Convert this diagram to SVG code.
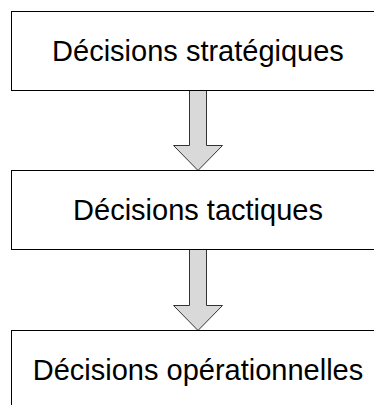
<svg xmlns="http://www.w3.org/2000/svg" width="374" height="405" viewBox="0 0 374 405">
<style>
.box{fill:#fff;stroke:#000;stroke-width:1}
.lbl{font-family:"Liberation Sans",Arial,sans-serif;font-size:29px;fill:#000;text-anchor:middle}
.arr{fill:#d9d9d9;stroke:#333;stroke-width:1}
</style>
<rect width="374" height="405" fill="#fff"/>
<g id="connectors">
<polygon class="arr" points="189.5,90.5 206.5,90.5 206.5,145.5 222.5,145.5 198,170.5 173.5,145.5 189.5,145.5"/>
<polygon class="arr" points="189.5,249.5 206.5,249.5 206.5,305.5 222.5,305.5 198,330.5 173.5,305.5 189.5,305.5"/>
</g>
<g id="n1">
<rect class="box" x="11.5" y="11.5" width="374" height="79"/>
<text class="lbl" x="198" y="61">Décisions stratégiques</text>
</g>
<g id="n2">
<rect class="box" x="11.5" y="170.5" width="374" height="79"/>
<text class="lbl" x="198" y="220">Décisions tactiques</text>
</g>
<g id="n3">
<rect class="box" x="11.5" y="330.5" width="374" height="79"/>
<text class="lbl" x="198" y="380">Décisions opérationnelles</text>
</g>
</svg>
